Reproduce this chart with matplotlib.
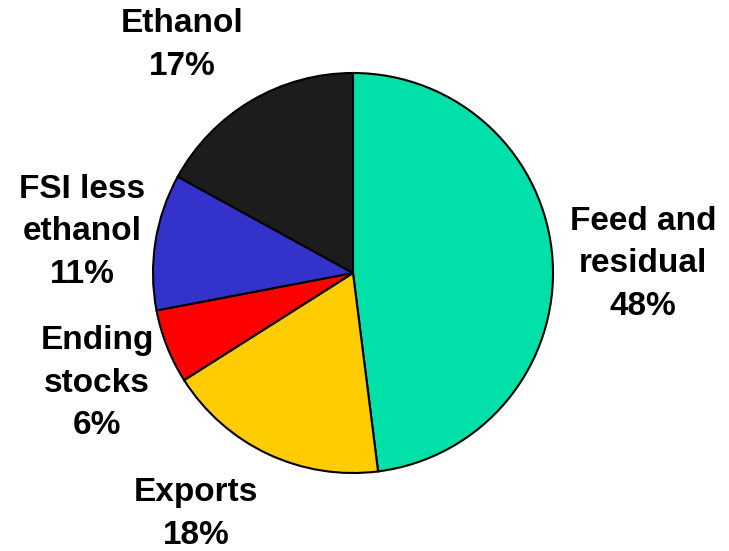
import matplotlib.pyplot as plt

plt.rcParams['font.family'] = ['Liberation Sans', 'DejaVu Sans']

# Corn use shares
categories = ['Feed and\nresidual', 'Exports', 'Ending\nstocks', 'FSI less\nethanol', 'Ethanol']
shares = [48, 18, 6, 11, 17]
colors = ['#00E0A8', '#FFCC00', '#FF0000', '#3333CC', '#1C1C1C']

# label anchor positions (pie radius = 1)
label_pos = [(1.45, 0.045), (-0.785, -1.205), (-1.28, -0.55), (-1.355, 0.205), (-0.855, 1.14)]

fig = plt.figure(figsize=(7.29, 5.51), dpi=100)
ax = fig.add_axes([0, 0, 1, 1])
ax.pie(shares, colors=colors, startangle=90, counterclock=False, radius=1,
       wedgeprops=dict(edgecolor='black', linewidth=1.5))

for name, val, (x, y) in zip(categories, shares, label_pos):
    ax.text(x, y, f"{name}\n{val}%", ha='center', va='center', fontsize=24,
            fontweight='bold', linespacing=1.48)

ax.set_xlim(-353 / 200, (729 - 353) / 200)
ax.set_ylim(-(551 - 273) / 200, 273 / 200)
ax.set_aspect('auto')
ax.axis('off')

fig.savefig('out.png', dpi=100, facecolor='white')
